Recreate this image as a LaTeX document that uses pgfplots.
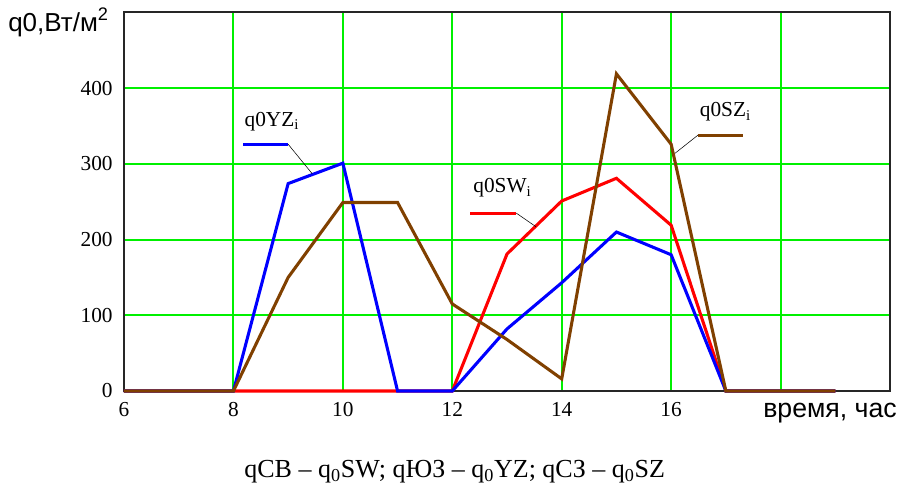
\documentclass[border=0pt]{standalone}
\usepackage{pgfplots}
\pgfplotsset{compat=1.18}
\usepackage{fontspec}
\setmainfont{Liberation Serif}
\newfontfamily\arial{Liberation Sans}
\definecolor{mcbrown}{RGB}{128,64,0}
\definecolor{mcgreen}{RGB}{0,240,0}

\begin{document}
\begin{tikzpicture}
\path[use as bounding box] (-93pt,-71.25pt) rectangle (580.5pt,293.25pt);
\begin{axis}[
  at={(0,0)}, anchor=south west,
  scale only axis, width=574.5pt, height=283.875pt,
  xmin=6, xmax=20, ymin=0, ymax=500,
  xtick={6,8,...,20}, xticklabels={6,8,10,12,14,16,{},{}},
  ytick={0,100,...,500}, yticklabels={0,100,200,300,400,{}},
  major tick length=0pt,
  xmajorgrids=true, ymajorgrids=true,
  major grid style={draw=mcgreen, line width=1.5pt},
  axis line style={black!85, line width=1.5pt},
  tick label style={font=\fontsize{16}{18}\selectfont},
  xticklabel style={yshift=-5pt},
  yticklabel style={xshift=-5pt},
  clip=false,
]
\addplot[red, line width=2.3pt] coordinates {
(6,0) (7,0) (8,0) (9,0) (10,0) (11,0) (12,0) (13,181) (14,251) (15,281) (16,219) (17,0) (18,0) (19,0)
};
\addplot[blue, line width=2.3pt] coordinates {
(6,0) (7,0) (8,0) (9,274) (10,301) (11,0) (12,0) (13,82) (14,143) (15,210) (16,180) (17,0) (18,0) (19,0)
};
\addplot[mcbrown, line width=2.3pt] coordinates {
(6,0) (7,0) (8,0) (9,150) (10,249) (11,249) (12,115) (13,68) (14,16) (15,419) (16,326) (17,0) (18,0) (19,0)
};

% series labels with their keys and leader lines
\draw[blue, line width=2.3pt] (axis cs:8.18,326) -- (axis cs:9.0,326);
\draw[black, line width=0.4pt] (axis cs:9.0,326) -- (axis cs:9.44,287);
\node[font=\fontsize{16}{18}\selectfont, anchor=base west, inner sep=0] at (axis cs:8.2,350) {q0YZ\textsubscript{i}};

\draw[red, line width=2.3pt] (axis cs:12.33,235) -- (axis cs:13.17,235);
\draw[black, line width=0.4pt] (axis cs:13.17,235) -- (axis cs:13.53,217);
\node[font=\fontsize{16}{18}\selectfont, anchor=base west, inner sep=0] at (axis cs:12.38,262) {q0SW\textsubscript{i}};

\draw[mcbrown, line width=2.3pt] (axis cs:16.49,338) -- (axis cs:17.32,338);
\draw[black, line width=0.4pt] (axis cs:16.49,338) -- (axis cs:16.07,314);
\node[font=\fontsize{16}{18}\selectfont, anchor=base west, inner sep=0] at (axis cs:16.52,362) {q0SZ\textsubscript{i}};

% axis titles
\node[font=\arial\fontsize{19.5}{22}\selectfont, anchor=base west, inner sep=0]
  at ([xshift=-87pt, yshift=-13.9pt]rel axis cs:0,1) {q0,Вт/м\textsuperscript{2}};
\node[font=\arial\fontsize{20}{22}\selectfont, anchor=base east, inner sep=0]
  at ([xshift=5.25pt, yshift=-19.5pt]rel axis cs:1,0) {время, час};

% caption
\node[font=\fontsize{19.5}{22}\selectfont, anchor=base, inner sep=0]
  at ([xshift=248pt, yshift=-65pt]rel axis cs:0,0) {qСВ – q\textsubscript{0}SW; qЮЗ – q\textsubscript{0}YZ; qСЗ – q\textsubscript{0}SZ};
\end{axis}
\end{tikzpicture}
\end{document}
